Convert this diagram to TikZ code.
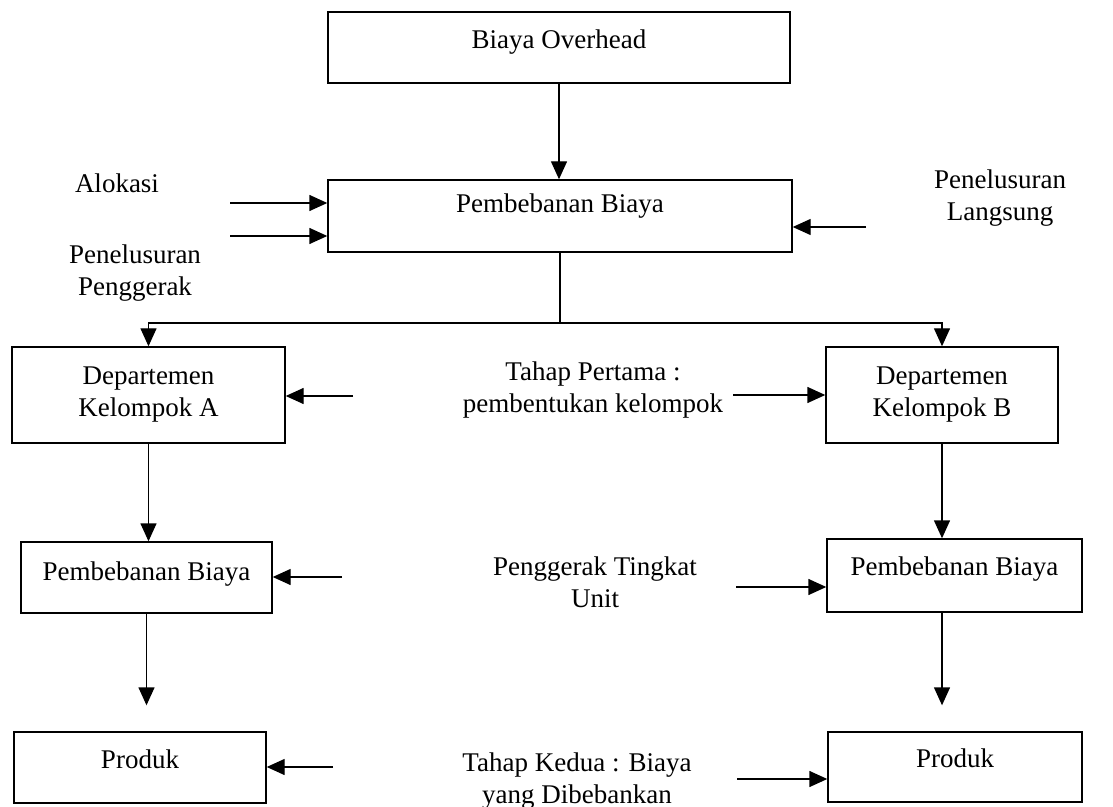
\documentclass[tikz,border=0pt]{standalone}
\usepackage{fontspec}
\setmainfont{Liberation Serif}
\usetikzlibrary{arrows.meta}

\begin{document}
\begin{tikzpicture}[x=0.5pt,y=-0.5pt,
  font=\fontsize{13.5}{16}\selectfont,
  box/.style={draw,line width=0.7pt,inner sep=0pt,align=center},
  txtbox/.style={box,text height=10pt,text depth=9.5pt},
  lbl/.style={align=center,inner sep=0pt},
  arr/.style={-{Triangle[length=9pt,width=8pt]},line width=0.7pt}]
  \useasboundingbox (0,0) rectangle (1113,807);

  \node[txtbox,text depth=8.5pt,minimum width=231pt,minimum height=35.5pt] (over) at (559,47.5) {Biaya Overhead};
  \node[txtbox,text depth=13pt,minimum width=232pt,minimum height=36pt] (pemb) at (560,216) {Pembebanan Biaya};
  \node[box,minimum width=136.5pt,minimum height=48pt] (deptA) at (148.5,395) {Departemen\\Kelompok A};
  \node[box,minimum width=116pt,minimum height=48pt] (deptB) at (942,395) {Departemen\\Kelompok B};
  \node[txtbox,text depth=7.5pt,minimum width=125.5pt,minimum height=35.5pt] (pembA) at (146.5,577.5) {Pembebanan Biaya};
  \node[txtbox,text depth=10.5pt,minimum width=127.5pt,minimum height=36.5pt] (pembB) at (954.5,575.5) {Pembebanan Biaya};
  \node[txtbox,minimum width=126pt,minimum height=35.5pt] (prodA) at (140,767.5) {Produk};
  \node[txtbox,minimum width=127pt,minimum height=35pt] (prodB) at (955,767) {Produk};

  \node[lbl] (alok) at (117,183) {Alokasi};
  \node[lbl] (trcA) at (135,273) {Penelusuran\\Penggerak};
  \node[lbl] (trcB) at (1000,198) {Penelusuran\\Langsung};
  \node[lbl] (stage1) at (593,390) {Tahap Pertama :\\pembentukan kelompok};
  \node[lbl] (unit) at (595,582) {Penggerak Tingkat\\Unit};
  \node[lbl] (stage2) at (577,781) {Tahap Kedua : Biaya\\yang Dibebankan};

  \coordinate (split) at (560,323);
  \coordinate (in1) at (230,203);
  \coordinate (in2) at (230,236);
  \coordinate (in3) at (866,227);
  \coordinate (in4) at (353,396);
  \coordinate (in5) at (733,395);
  \coordinate (in6) at (342,577);
  \coordinate (in7) at (736,587);
  \coordinate (in8) at (333,767);
  \coordinate (in9) at (737,779);

  \draw[arr] (over.south) -- (over.south |- pemb.north);
  \draw[line width=0.7pt] (pemb.south) -- (split);
  \draw[arr] (split) -| (deptA.north);
  \draw[arr] (split) -| (deptB.north);
  \draw[arr] (deptA.south) -- (deptA.south |- pembA.north);
  \draw[arr] (deptB.south) -- (deptB.south |- pembB.north);
  \draw[arr,shorten >=13pt] (pembA.south) -- (pembA.south |- prodA.north);
  \draw[arr,shorten >=13pt] (pembB.south -| deptB) -- (prodB.north -| deptB);

  \draw[arr] (in1) -- (in1 -| pemb.west);
  \draw[arr] (in2) -- (in2 -| pemb.west);
  \draw[arr] (in3) -- (in3 -| pemb.east);
  \draw[arr] (in4) -- (in4 -| deptA.east);
  \draw[arr] (in5) -- (in5 -| deptB.west);
  \draw[arr] (in6) -- (in6 -| pembA.east);
  \draw[arr] (in7) -- (in7 -| pembB.west);
  \draw[arr] (in8) -- (in8 -| prodA.east);
  \draw[arr] (in9) -- (in9 -| prodB.west);
\end{tikzpicture}
\end{document}
